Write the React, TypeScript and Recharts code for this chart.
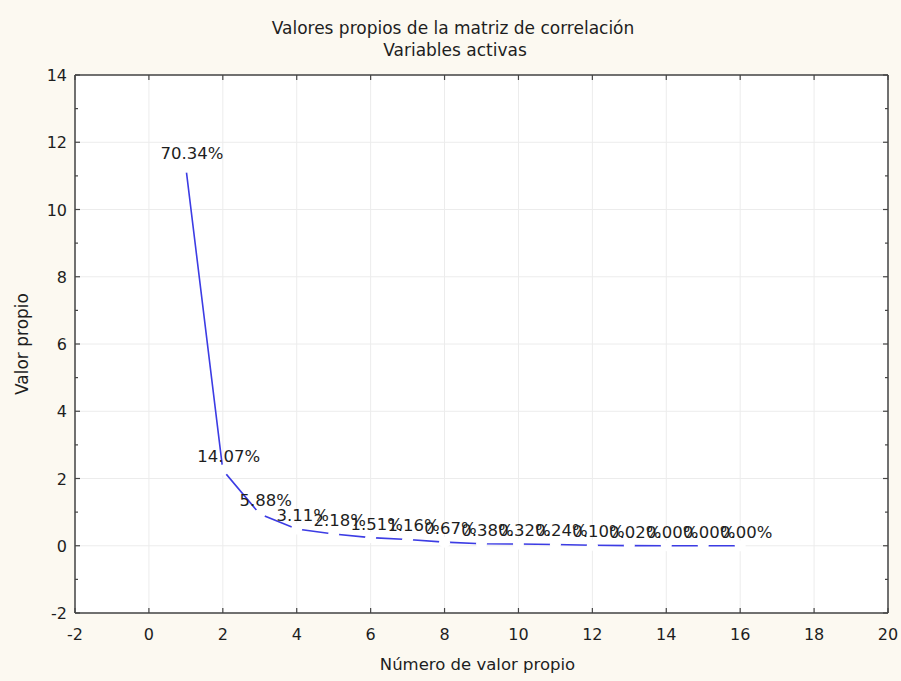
import React from 'react';
import { LineChart, Line, XAxis, YAxis, CartesianGrid, ReferenceLine, LabelList, Label } from 'recharts';

const componentNumbers = [1, 2, 3, 4, 5, 6, 7, 8, 9, 10, 11, 12, 13, 14, 15, 16];
const eigenvalues = [11.254, 2.251, 0.941, 0.498, 0.349, 0.242, 0.186, 0.107, 0.061, 0.051, 0.038, 0.016, 0.003, 0.0006, 0.0003, 0.0001];
const percentLabels = ['70.34%', '14.07%', '5.88%', '3.11%', '2.18%', '1.51%', '1.16%', '0.67%', '0.38%', '0.32%', '0.24%', '0.10%', '0.02%', '0.00%', '0.00%', '0.00%'];
const xTicks = [-2, 0, 2, 4, 6, 8, 10, 12, 14, 16, 18, 20];
const yTicks = [-2, -1, 0, 1, 2, 3, 4, 5, 6, 7, 8, 9, 10, 11, 12, 13, 14];
const yLabelTicks = [-2, 0, 2, 4, 6, 8, 10, 12, 14];

const titleLine1 = 'Valores propios de la matriz de correlación';
const titleLine2 = 'Variables activas';
const xTitle = 'Número de valor propio';
const yTitle = 'Valor propio';

const data = componentNumbers.map((n, i) => ({ n, v: eigenvalues[i], label: percentLabels[i] }));

const W = 901;
const H = 681;
const PLOT_LEFT = 75;
const PLOT_RIGHT = 888;
const PLOT_TOP = 75;
const PLOT_BOTTOM = 613;
const FONT = '"DejaVu Sans", Arial, sans-serif';
const TEXT = '#1e1e1e';
const FRAME = '#454545';
const LINE = '#3c3ce4';

const XTick = (props: any) => {
  const { x, payload } = props;
  return (
    <g>
      <line x1={x} x2={x} y1={PLOT_BOTTOM} y2={PLOT_BOTTOM - 5} stroke={FRAME} strokeWidth={1.2} />
      <line x1={x} x2={x} y1={PLOT_TOP} y2={PLOT_TOP + 5} stroke={FRAME} strokeWidth={1.2} />
      <text x={x} y={640} textAnchor="middle" fontFamily={FONT} fontSize={16} fill={TEXT}>
        {payload.value}
      </text>
    </g>
  );
};

const YTick = (props: any) => {
  const { y, payload } = props;
  const major = payload.value % 2 === 0;
  const len = major ? 5 : 3;
  return (
    <g>
      <line x1={PLOT_LEFT} x2={PLOT_LEFT + len} y1={y} y2={y} stroke={FRAME} strokeWidth={1.2} />
      <line x1={PLOT_RIGHT} x2={PLOT_RIGHT - len} y1={y} y2={y} stroke={FRAME} strokeWidth={1.2} />
      {major && (
        <text x={67} y={y + 6} textAnchor="end" fontFamily={FONT} fontSize={16} fill={TEXT}>
          {payload.value}
        </text>
      )}
    </g>
  );
};

const WhiteDot = (props: any) => {
  const { cx, cy, index } = props;
  return <circle key={`d-${index}`} cx={cx} cy={cy} r={5.5} fill="#ffffff" stroke="none" />;
};

const PointLabel = (props: any) => {
  const { x, y, value } = props;
  return (
    <text x={x + 6} y={y - 8} textAnchor="middle" fontFamily={FONT} fontSize={16.5} fill={TEXT}>
      {value}
    </text>
  );
};

export default function App() {
  return (
    <div style={{ position: 'fixed', left: 0, top: 0, width: W, height: H, background: '#fcf9f1' }}>
      <svg width={W} height={80} style={{ position: 'absolute', left: 0, top: 0 }}>
        <text x={453} y={34} textAnchor="middle" fontFamily={FONT} fontSize={17} fill={TEXT}>
          {titleLine1}
        </text>
        <text x={455} y={56} textAnchor="middle" fontFamily={FONT} fontSize={17} fill={TEXT}>
          {titleLine2}
        </text>
      </svg>
      <div style={{ position: 'absolute', left: 0, top: 0 }}>
        <LineChart width={W} height={H} data={data} margin={{ top: PLOT_TOP, right: W - PLOT_RIGHT, bottom: 0, left: 0 }}>
          <CartesianGrid fill="#ffffff" stroke="#ececec" horizontalValues={yLabelTicks} />
          <XAxis
            type="number"
            dataKey="n"
            domain={[-2, 20]}
            ticks={xTicks}
            interval={0}
            height={H - PLOT_BOTTOM}
            axisLine={false}
            tickLine={false}
            tick={<XTick />}
          >
            <Label value={xTitle} position="insideBottom" offset={11} dx={-4} fontFamily={FONT} fontSize={16.5} fill={TEXT} />
          </XAxis>
          <YAxis
            type="number"
            domain={[-2, 14]}
            ticks={yTicks}
            interval={0}
            width={PLOT_LEFT}
            axisLine={false}
            tickLine={false}
            tick={<YTick />}
          >
            <Label
              value={yTitle}
              angle={-90}
              position="insideLeft"
              offset={22}
              style={{ textAnchor: 'middle' }}
              fontFamily={FONT}
              fontSize={17}
              fill={TEXT}
            />
          </YAxis>
          <ReferenceLine x={-2} stroke={FRAME} strokeWidth={1.5} />
          <ReferenceLine x={20} stroke={FRAME} strokeWidth={1.5} />
          <ReferenceLine y={-2} stroke={FRAME} strokeWidth={1.5} />
          <ReferenceLine y={14} stroke={FRAME} strokeWidth={1.5} />
          <Line
            type="linear"
            dataKey="v"
            stroke={LINE}
            strokeWidth={1.6}
            dot={<WhiteDot />}
            activeDot={false}
            isAnimationActive={false}
          >
            <LabelList dataKey="label" content={<PointLabel />} />
          </Line>
        </LineChart>
      </div>
    </div>
  );
}
